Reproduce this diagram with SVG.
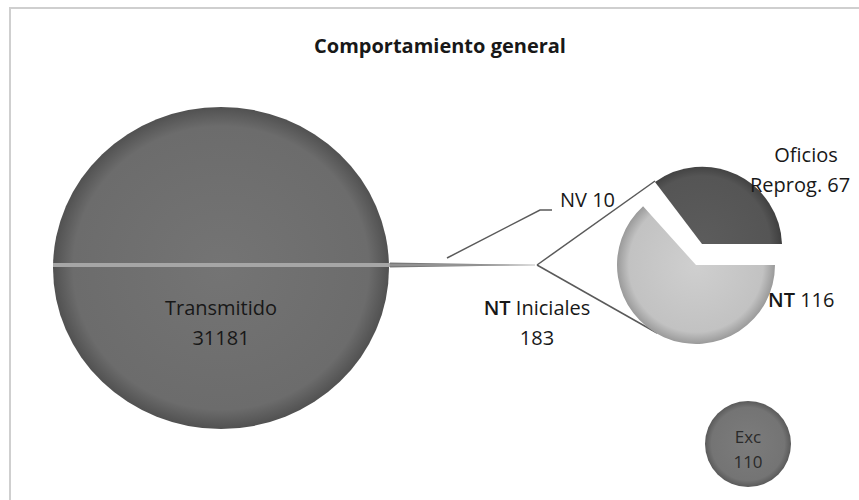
<svg xmlns="http://www.w3.org/2000/svg" width="859" height="500" viewBox="0 0 859 500">
<defs>
<radialGradient id="gMain" cx="50%" cy="50%" r="50%">
<stop offset="0%" stop-color="#747474"/><stop offset="88%" stop-color="#6c6c6c"/><stop offset="100%" stop-color="#515151"/>
</radialGradient>
<radialGradient id="gLight" cx="696" cy="265" r="79" gradientUnits="userSpaceOnUse">
<stop offset="0%" stop-color="#cfcfcf"/><stop offset="85%" stop-color="#c2c2c2"/><stop offset="100%" stop-color="#9a9a9a"/>
</radialGradient>
<radialGradient id="gDark" cx="702" cy="244" r="80" gradientUnits="userSpaceOnUse">
<stop offset="0%" stop-color="#5c5c5c"/><stop offset="85%" stop-color="#555555"/><stop offset="100%" stop-color="#3e3e3e"/>
</radialGradient>
<radialGradient id="gExc" cx="50%" cy="50%" r="50%">
<stop offset="0%" stop-color="#7c7c7c"/><stop offset="85%" stop-color="#747474"/><stop offset="100%" stop-color="#5a5a5a"/>
</radialGradient>
</defs>
<style>
text{font-family:"Open Sans","Liberation Sans",sans-serif;fill:#181818;font-size:20px}
.title{font-weight:bold;font-size:20px}
.b{font-weight:600}
.conn{stroke:#5a5a5a;stroke-width:1.5;fill:none}
.exc{font-size:17px;fill:#2a2a2a}
</style>
<rect x="10" y="8" width="870" height="520" fill="#fff" stroke="#cfcfcf" stroke-width="2"/>
<text class="title" x="440" y="53" text-anchor="middle">Comportamiento general</text>

<g id="transmitido">
<ellipse cx="221" cy="268" rx="168" ry="161" fill="url(#gMain)"/>
<rect x="53" y="263" width="337" height="4" fill="#a6a6a6"/>
<text x="221" y="315" text-anchor="middle">Transmitido</text>
<text x="221" y="345" text-anchor="middle">31181</text>
</g>

<g id="connectors">
<path d="M390 262.5 L537 265 L390 267.5 Z" fill="#7a7a7a"/>
<line x1="390" y1="265" x2="535" y2="265" stroke="#b8b8b8" stroke-width="0.8"/>
<path class="conn" d="M447 258 L540 210 L552 210"/>
<path class="conn" d="M537 265 L655 181"/>
<path class="conn" d="M537 265 L657 333"/>
</g>

<g id="nv10">
<text x="560" y="207">NV 10</text>
</g>

<g id="nt-iniciales">
<text x="537" y="315" text-anchor="middle"><tspan class="b">NT</tspan> Iniciales</text>
<text x="537" y="345" text-anchor="middle">183</text>
</g>

<g id="nt116">
<path d="M696 265 L775 265 A79 79 0 1 1 643.1 206.3 Z" fill="url(#gLight)"/>
<text x="768" y="307"><tspan class="b">NT</tspan> 116</text>
</g>

<g id="oficios">
<path d="M702 244 L655 182 A80 80 0 0 1 782 244 Z" fill="url(#gDark)"/>
<text x="806" y="162" text-anchor="middle">Oficios</text>
<text x="750" y="192">Reprog. 67</text>
</g>

<g id="exc">
<circle cx="748" cy="444" r="43" fill="url(#gExc)"/>
<text class="exc" x="748" y="443" text-anchor="middle">Exc</text>
<text class="exc" x="748" y="468" text-anchor="middle">110</text>
</g>
</svg>
